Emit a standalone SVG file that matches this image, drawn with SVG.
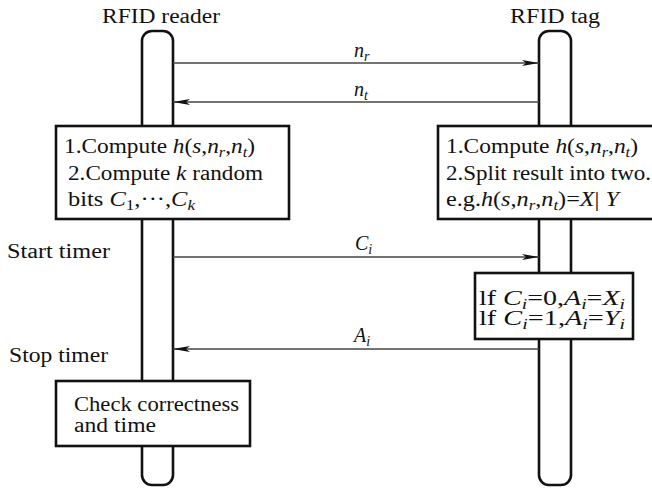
<svg xmlns="http://www.w3.org/2000/svg" width="652" height="488" viewBox="0 0 652 488" font-family="'Liberation Serif', 'Times New Roman', Tinos, 'DejaVu Serif', 'Noto Serif', serif">
  <style>
    text { font-family: 'Liberation Serif', 'Times New Roman', Tinos, 'DejaVu Serif', 'Noto Serif', serif; font-size: 20px; fill: #111; }
    .it { font-style: italic; }
    .sub { font-size: 14px; font-style: italic; }
    .subn { font-size: 14px; }
    .life { fill: #fff; stroke: #111; stroke-width: 2.6; }
    .box { fill: #fff; stroke: #111; stroke-width: 2.6; }
    .msg { fill: none; stroke: #444; stroke-width: 1.4; marker-end: url(#arrow); }
  </style>
  <defs>
    <marker id="arrow" markerUnits="userSpaceOnUse" viewBox="0 0 17 6" refX="17" refY="3" markerWidth="17" markerHeight="6" orient="auto">
      <path d="M0,0 L17,3 L0,6 L4,3 z" fill="#111"/>
    </marker>
  </defs>
  <rect width="652" height="488" fill="#fff"/>

  <!-- lifelines -->
  <g id="reader">
    <text x="102" y="23" textLength="118" lengthAdjust="spacingAndGlyphs">RFID reader</text>
    <rect class="life" x="142" y="31" width="31" height="454" rx="10"/>
  </g>
  <g id="tag">
    <text x="510" y="23" textLength="90" lengthAdjust="spacingAndGlyphs">RFID tag</text>
    <rect class="life" x="539" y="31" width="32" height="454" rx="10"/>
  </g>

  <!-- messages -->
  <g id="connectors">
    <path class="msg" d="M173,63 H539"/>
    <path class="msg" d="M539,102 H173"/>
    <path class="msg" d="M173,257 H539"/>
    <path class="msg" d="M539,349 H173"/>
    <text x="354" y="57"><tspan class="it">n</tspan><tspan class="sub" dy="4">r</tspan></text>
    <text x="354" y="96"><tspan class="it">n</tspan><tspan class="sub" dy="4">t</tspan></text>
    <text x="355" y="250"><tspan class="it">C</tspan><tspan class="sub" dy="4">i</tspan></text>
    <text x="354" y="342"><tspan class="it">A</tspan><tspan class="sub" dy="4">i</tspan></text>
  </g>

  <!-- reader: initial computation -->
  <g id="reader-compute">
    <rect class="box" x="56" y="126" width="233" height="93"/>
    <text x="64" y="153" textLength="191" lengthAdjust="spacingAndGlyphs">1.Compute <tspan class="it">h</tspan>(<tspan class="it">s</tspan>,<tspan class="it">n</tspan><tspan class="sub" dy="4">r</tspan><tspan dy="-4">,</tspan><tspan class="it">n</tspan><tspan class="sub" dy="4">t</tspan><tspan dy="-4">)</tspan></text>
    <text x="68" y="180" textLength="195" lengthAdjust="spacingAndGlyphs">2.Compute <tspan class="it">k</tspan> random</text>
    <text x="68" y="206" textLength="127" lengthAdjust="spacingAndGlyphs">bits <tspan class="it">C</tspan><tspan class="subn" dy="4">1</tspan><tspan dy="-4">,···,</tspan><tspan class="it">C</tspan><tspan class="sub" dy="4">k</tspan></text>
  </g>

  <!-- tag: initial computation -->
  <g id="tag-compute">
    <rect class="box" x="438" y="126" width="220" height="93"/>
    <text x="446" y="153" textLength="192" lengthAdjust="spacingAndGlyphs">1.Compute <tspan class="it">h</tspan>(<tspan class="it">s</tspan>,<tspan class="it">n</tspan><tspan class="sub" dy="4">r</tspan><tspan dy="-4">,</tspan><tspan class="it">n</tspan><tspan class="sub" dy="4">t</tspan><tspan dy="-4">)</tspan></text>
    <text x="446" y="180" textLength="205" lengthAdjust="spacingAndGlyphs">2.Split result into two.</text>
    <text x="446" y="206" textLength="173" lengthAdjust="spacingAndGlyphs">e.g.<tspan class="it">h</tspan>(<tspan class="it">s</tspan>,<tspan class="it">n</tspan><tspan class="sub" dy="4">r</tspan><tspan dy="-4">,</tspan><tspan class="it">n</tspan><tspan class="sub" dy="4">t</tspan><tspan dy="-4">)=</tspan><tspan class="it">X</tspan>| <tspan class="it">Y</tspan></text>
  </g>

  <!-- tag: response selection -->
  <g id="tag-response">
    <rect class="box" x="475" y="273" width="158" height="66"/>
    <text x="479" y="305" textLength="146" lengthAdjust="spacingAndGlyphs">lf <tspan class="it">C</tspan><tspan class="sub" dy="4">i</tspan><tspan dy="-4">=0,</tspan><tspan class="it">A</tspan><tspan class="sub" dy="4">i</tspan><tspan dy="-4">=</tspan><tspan class="it">X</tspan><tspan class="sub" dy="4">i</tspan></text>
    <text x="479" y="325" textLength="146" lengthAdjust="spacingAndGlyphs">lf <tspan class="it">C</tspan><tspan class="sub" dy="4">i</tspan><tspan dy="-4">=1,</tspan><tspan class="it">A</tspan><tspan class="sub" dy="4">i</tspan><tspan dy="-4">=</tspan><tspan class="it">Y</tspan><tspan class="sub" dy="4">i</tspan></text>
  </g>

  <!-- reader: timer labels -->
  <g id="start-timer">
    <text x="7" y="258" textLength="103" lengthAdjust="spacingAndGlyphs">Start timer</text>
  </g>
  <g id="stop-timer">
    <text x="9" y="362" textLength="99" lengthAdjust="spacingAndGlyphs">Stop timer</text>
  </g>

  <!-- reader: final check -->
  <g id="reader-check">
    <rect class="box" x="56" y="381" width="194" height="65"/>
    <text x="74" y="411" textLength="165" lengthAdjust="spacingAndGlyphs">Check correctness</text>
    <text x="74" y="432" textLength="82" lengthAdjust="spacingAndGlyphs">and time</text>
  </g>
</svg>
